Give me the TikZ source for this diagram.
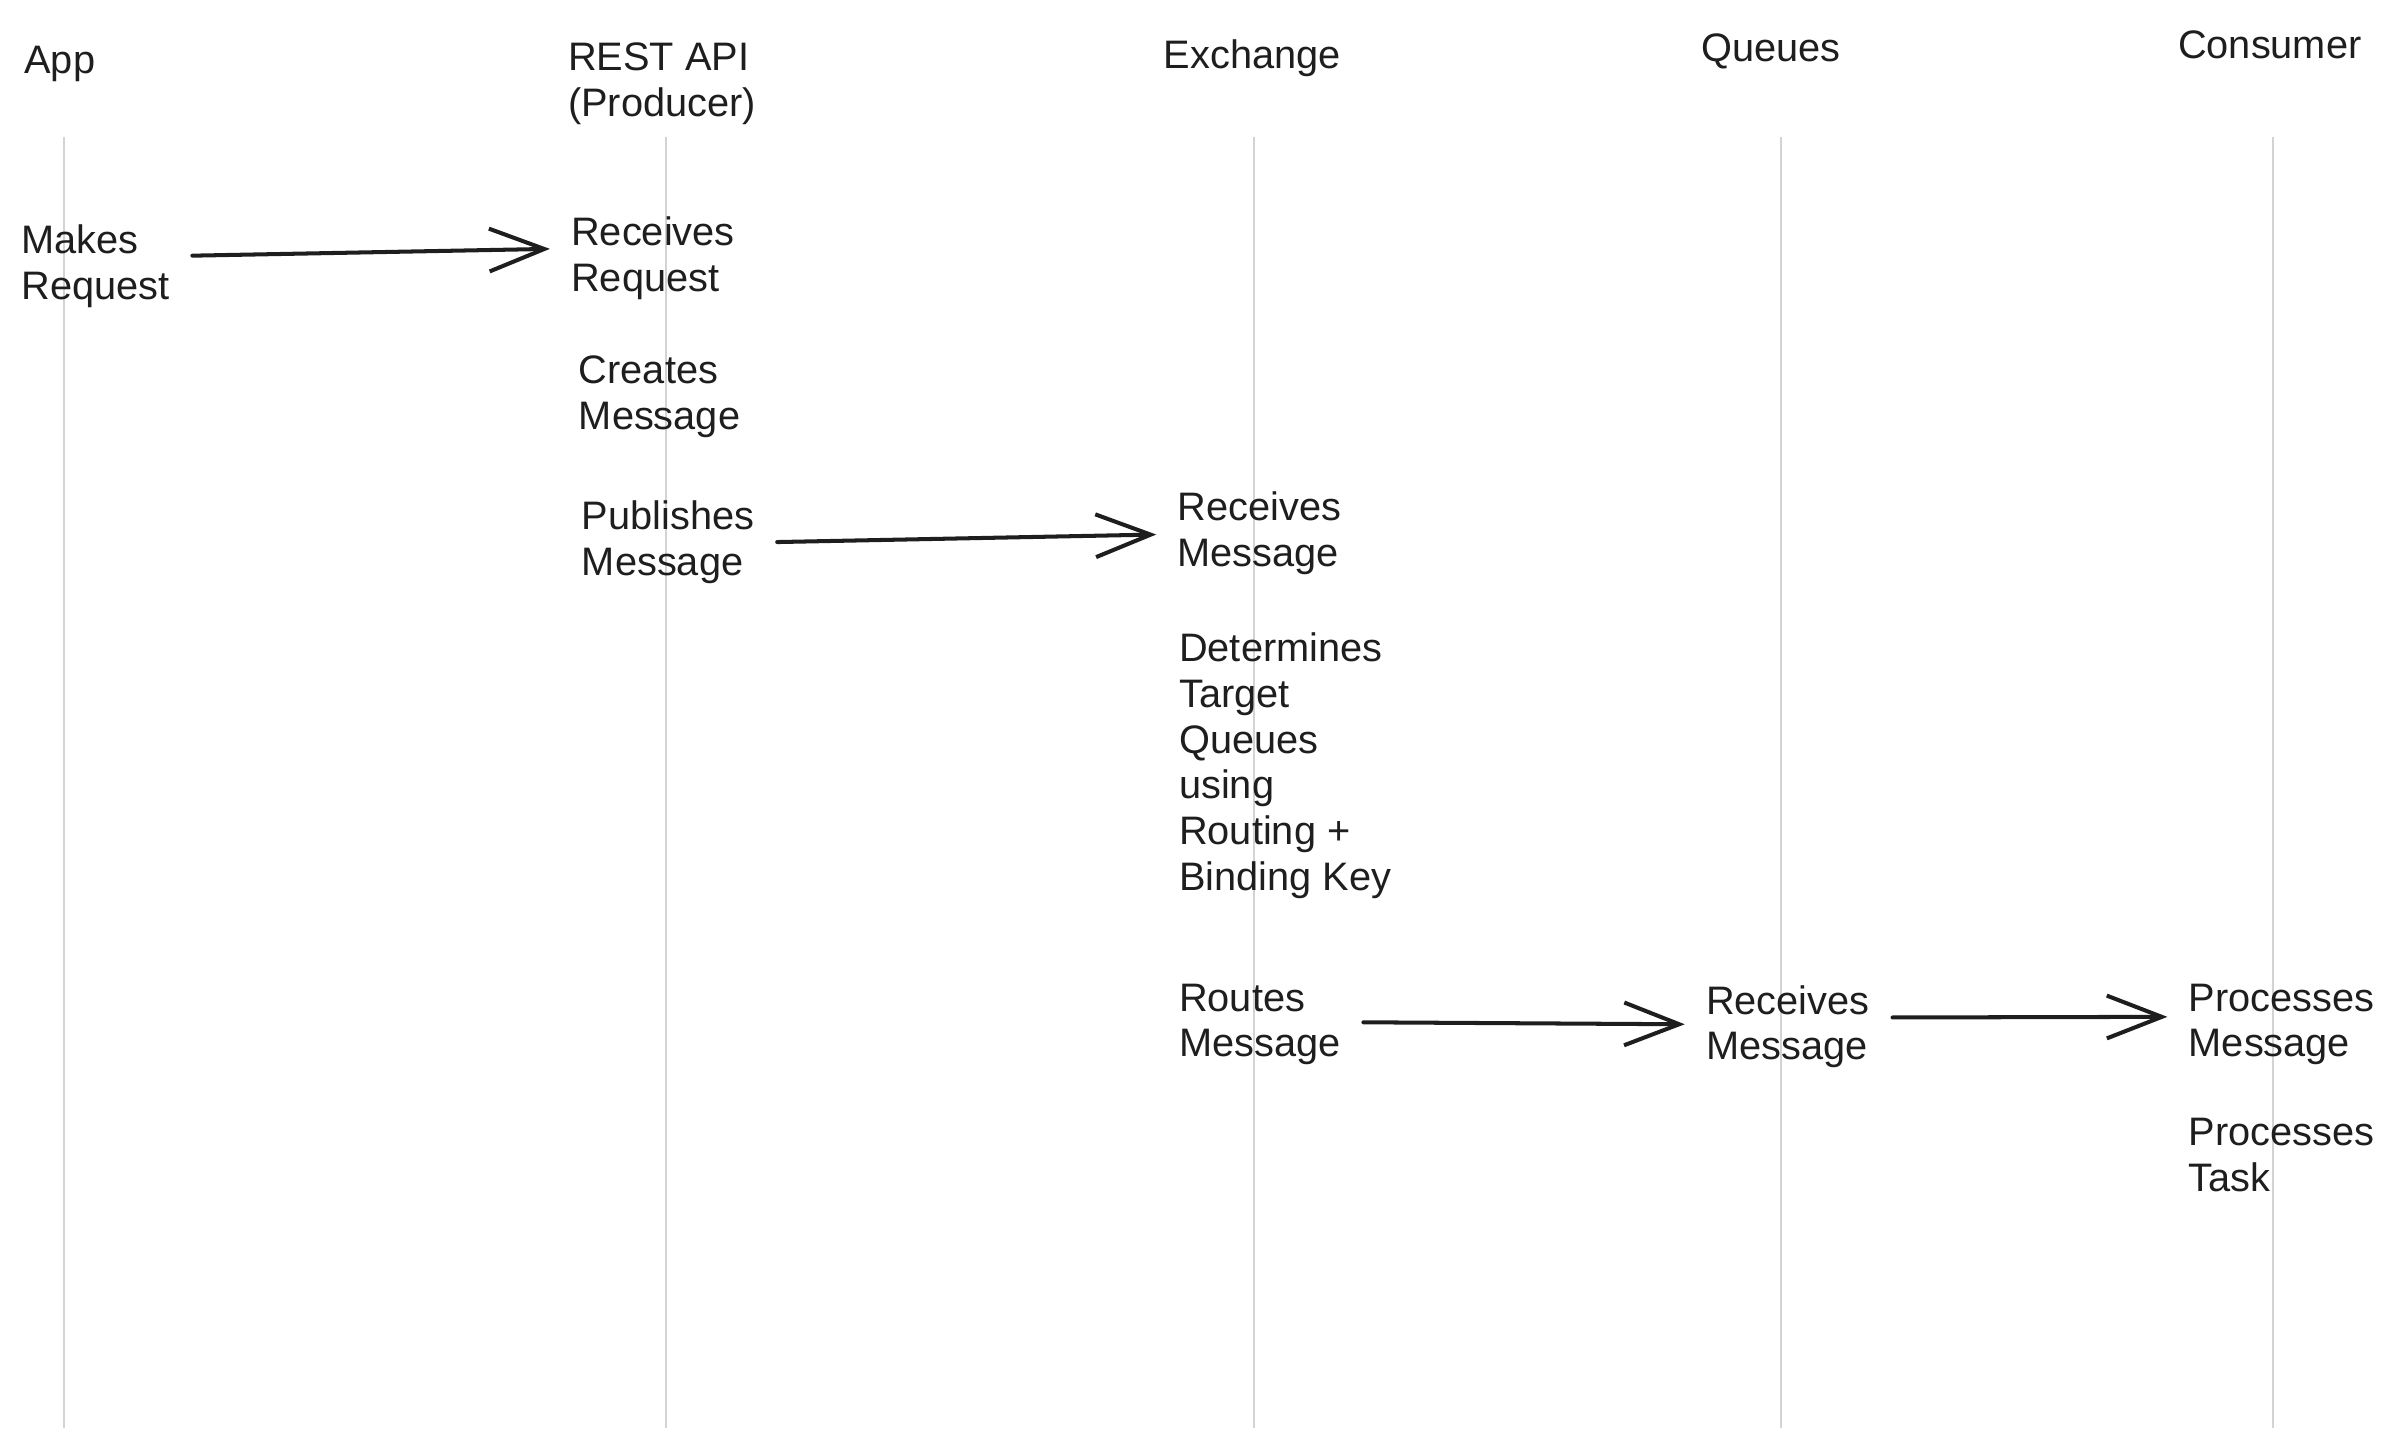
\documentclass[tikz,border=0pt]{standalone}
\usepackage{fontspec}
\setmainfont{Liberation Sans}
\usetikzlibrary{arrows.meta}

\definecolor{inkc}{HTML}{1E1E1E}
\definecolor{lifec}{HTML}{D3D3D3}

\tikzset{
    lbl/.style={anchor=north west, inner sep=0pt, outer sep=0pt, align=left,
        text=inkc, font=\fontsize{7.4}{8.55}\selectfont},
    life/.style={draw=lifec, line width=0.4pt},
    msg/.style={draw=inkc, line width=0.75pt, line cap=round,
        -{Straight Barb[length=0.36cm, width=0.28cm, line width=0.75pt]},
        shorten <=0.15cm, shorten >=0.14cm}
}

\begin{document}
\begin{tikzpicture}[x=0.01cm, y=-0.01cm]
    % Рамка
    \useasboundingbox (0,0) rectangle (1568,947);

    % Линии жизни
    \draw[life] (42,90) -- (42,935);
    \draw[life] (436,90) -- (436,935);
    \draw[life] (821,90) -- (821,935);
    \draw[life] (1166,90) -- (1166,935);
    \draw[life] (1488,90) -- (1488,935);

    % Заголовки
    \node[lbl] (app) at (16,30) {App};
    \node[lbl] (api) at (372,28) {REST API\\(Producer)};
    \node[lbl] (exch) at (762,26) {Exchange};
    \node[lbl] (queues) at (1114,22) {Queues};
    \node[lbl] (cons) at (1426,20) {Consumer};

    % Шаги
    \node[lbl] (makes) at (14,147) {Makes\\Request};
    \node[lbl] (recreq) at (374,142) {Receives\\Request};
    \node[lbl] (creates) at (379,233) {Creates\\Message};
    \node[lbl] (publ) at (381,328) {Publishes\\Message};
    \node[lbl] (recex) at (771,322) {Receives\\Message};
    \node[lbl] (determ) at (772,414) {Determines\\Target\\Queues\\using\\Routing +\\Binding Key};
    \node[lbl] (routes) at (772,644) {Routes\\Message};
    \node[lbl] (recq) at (1117,645) {Receives\\Message};
    \node[lbl] (procmsg) at (1433,644) {Processes\\Message};
    \node[lbl] (proctask) at (1433,732) {Processes\\Task};

    % Сообщения
    \draw[msg] ([yshift=0.065cm]makes.east) -- ([yshift=0.065cm]recreq.west);
    \draw[msg] (publ.east) -- ([yshift=-0.005cm]recex.west);
    \draw[msg] ([yshift=0.015cm]routes.east) -- ([yshift=0.015cm]recq.west);
    \draw[msg] ([yshift=0.06cm]recq.east) -- ([yshift=0.05cm]procmsg.west);
\end{tikzpicture}
\end{document}
